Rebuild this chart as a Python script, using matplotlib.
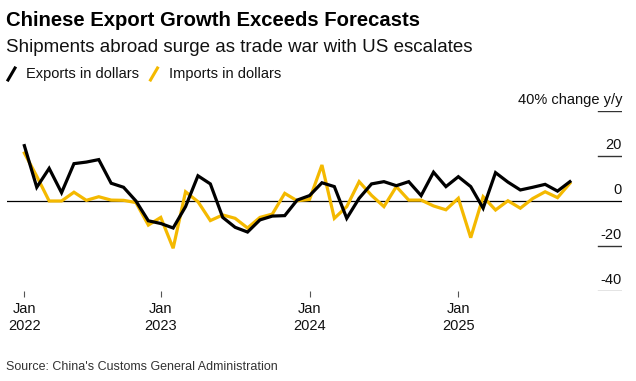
import numpy as np
import matplotlib
matplotlib.use("Agg")
import matplotlib.pyplot as plt
from matplotlib.lines import Line2D

plt.rcParams['font.family'] = ['Liberation Sans', 'DejaVu Sans']

# monthly y/y change, Jan 2022 .. Sep 2025
exports = [24.6, 6.1, 14.5, 3.7, 16.6, 17.3, 18.4, 7.9, 6.1, 0.0, -8.8, -10.0,
           -12.0, -2.5, 11.2, 7.6, -7.3, -11.7, -13.8, -8.4, -6.7, -6.5, 0.4, 2.4,
           8.1, 6.4, -7.7, 1.2, 7.6, 8.6, 6.8, 8.6, 2.4, 12.8, 6.4, 10.8,
           6.4, -3.2, 12.6, 8.4, 4.9, 6.1, 7.4, 4.4, 8.6]
imports = [21.3, 11.0, 0.0, 0.0, 3.9, 0.3, 1.9, 0.4, 0.3, -0.7, -10.7, -7.3,
           -21.0, 4.1, -0.3, -8.7, -6.2, -7.7, -12.0, -7.3, -5.8, 3.4, 0.1, 0.7,
           16.0, -7.7, -2.5, 8.6, 2.5, -2.5, 6.4, 0.4, 0.4, -2.2, -3.9, 1.2,
           -16.3, 1.9, -4.0, 0.1, -3.2, 1.1, 4.1, 1.5, 7.9]
yticks = [20, 0, -20, -40]
year_ticks = [1, 12, 24, 36]
year_labels = ['Jan\n2022', 'Jan\n2023', 'Jan\n2024', 'Jan\n2025']

BLACK = '#000000'
YELLOW = '#f4b900'

# months since Jan 1 2022, plotted at month end
x = np.arange(len(exports)) + 1

fig = plt.figure(figsize=(6.36, 3.81), dpi=100)
W, H = 636, 381
ax = fig.add_axes([7 / W, 1 - 291 / H, 615 / W, 180 / H])

ax.plot(x, imports, color=YELLOW, lw=2.3, zorder=3, solid_joinstyle='miter')
ax.plot(x, exports, color=BLACK, lw=2.3, zorder=4, solid_joinstyle='miter')

ax.set_xlim(-0.4, 49.2)
ax.set_ylim(-40, 40)

ax.axhline(0, color=BLACK, lw=0.9, zorder=2)
for v in [40] + yticks:
    if v != 0:
        ax.axhline(v, xmin=0.961, xmax=1, color='#333333' if v != -40 else '#777777', lw=1)
    lab = '40% change y/y' if v == 40 else str(v)
    ax.annotate(lab, xy=(1, v), xycoords=('axes fraction', 'data'), xytext=(0, 3),
                textcoords='offset points', ha='right', va='bottom', fontsize=10.5,
                color='#111111')

for s in ax.spines.values():
    s.set_visible(False)
ax.set_yticks([])
ax.set_xticks(year_ticks)
ax.set_xticklabels(year_labels, fontsize=10.5, color='#111111', linespacing=1.3)
ax.tick_params(axis='x', length=4, width=0.8, color='#555555', pad=4)

fig.text(6 / W, 1 - 20 / H, 'Chinese Export Growth Exceeds Forecasts', fontsize=14.6,
         fontweight='bold', va='center', ha='left')
fig.text(6 / W, 1 - 47 / H, 'Shipments abroad surge as trade war with US escalates',
         fontsize=13.5, va='center', ha='left', color='#111111')

# legend
for x0, col, lab in [(8, BLACK, 'Exports in dollars'), (150.5, YELLOW, 'Imports in dollars')]:
    fig.add_artist(Line2D([x0 / W, (x0 + 7) / W], [1 - 80 / H, 1 - 68 / H],
                          color=col, lw=2.2, transform=fig.transFigure))
    fig.text((x0 + 18) / W, 1 - 74 / H, lab, fontsize=10.5, va='center', ha='left',
             color='#111111')

fig.text(6 / W, 1 - 367 / H, "Source: China's Customs General Administration",
         fontsize=9.0, va='center', ha='left', color='#333333')

fig.savefig('out.png', dpi=100)
